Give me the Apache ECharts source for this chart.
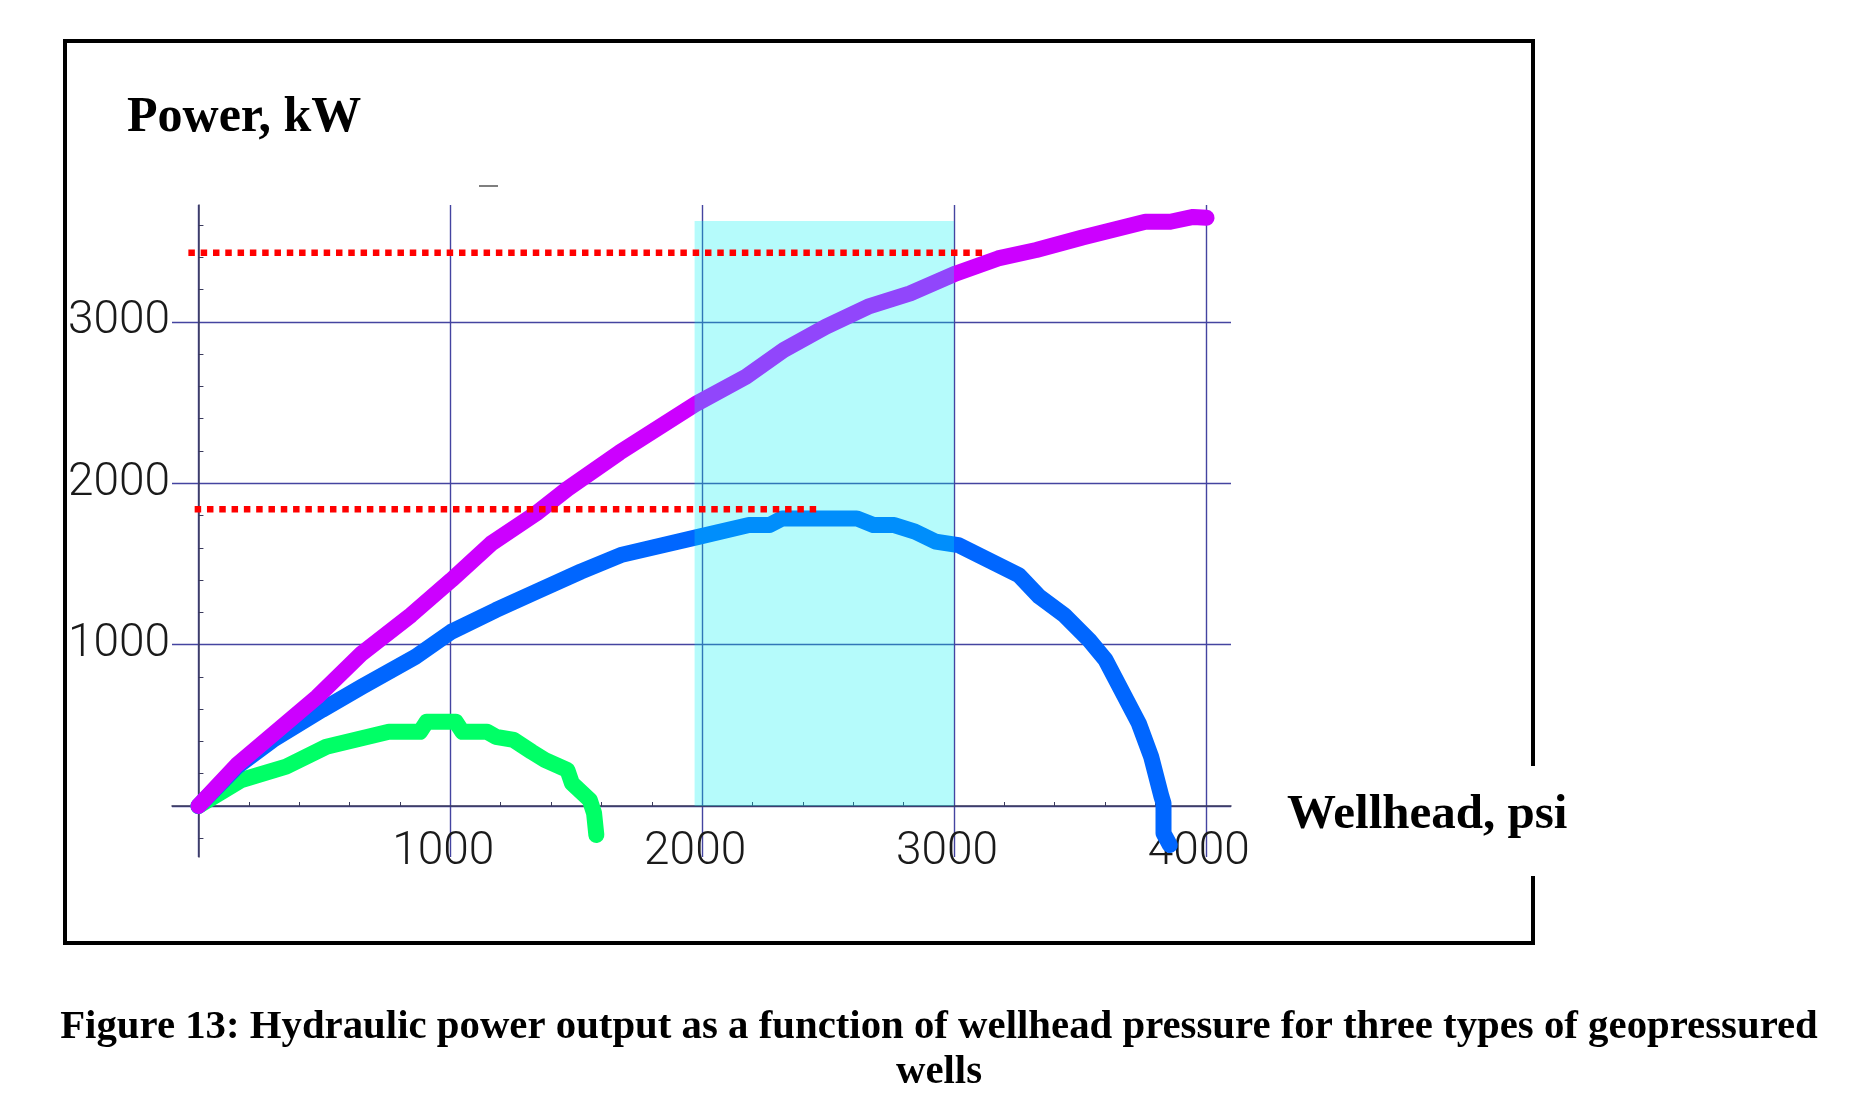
<!DOCTYPE html>
<html>
<head>
<meta charset="utf-8">
<title>Hydraulic power output vs wellhead pressure</title>
<script src="https://cdn.jsdelivr.net/npm/echarts@6/dist/echarts.min.js"></script>
<style>
  html, body { margin: 0; padding: 0; background: #fff; }
  #main { width: 1862px; height: 1095px; }
</style>
</head>
<body>
<div id="main"></div>
<script>
// values: wellhead pressure (psi) and hydraulic power (kW)
var purplePsi = [0, 153, 472, 649, 844, 1004, 1164, 1341, 1465, 1672, 1979, 2174, 2324, 2491, 2659, 2826, 3008, 3175, 3327, 3510, 3760, 3859, 3950, 4003];
var purpleKw  = [0, 255, 677, 946, 1183, 1400, 1628, 1813, 1965, 2190, 2495, 2660, 2825, 2970, 3094, 3176, 3300, 3393, 3445, 3523, 3620, 3620, 3650, 3645];

var bluePsi = [0, 153, 295, 490, 649, 862, 1004, 1181, 1341, 1518, 1677, 1989, 2186, 2268, 2318, 2614, 2680, 2763, 2845, 2927, 3018, 3257, 3339, 3438, 3537, 3602, 3734, 3783, 3824, 3832, 3832, 3857];
var blueKw  = [0, 244, 409, 595, 739, 925, 1080, 1214, 1328, 1452, 1555, 1669, 1741, 1741, 1782, 1782, 1741, 1741, 1700, 1638, 1617, 1431, 1297, 1183, 1028, 905, 512, 305, 58, 17, -169, -242];

var greenPsi = [0, 171, 348, 508, 756, 880, 906, 1022, 1048, 1146, 1181, 1252, 1323, 1376, 1465, 1483, 1554, 1571, 1580];
var greenKw  = [0, 161, 244, 367, 460, 460, 522, 522, 460, 460, 429, 409, 336, 285, 223, 141, 37, -45, -180];

// red dotted reference levels
var refHighPsi = [-40, 3130];
var refHighKw  = 3428;
var refLowPsi  = [-15, 2475];
var refLowKw   = 1838;

// shaded pressure band
var bandPsi = [1970, 3000];
var bandTop = 3625;

// tick labels
var xTickLabels = [1000, 2000, 3000, 4000];
var yTickLabels = [1000, 2000, 3000];

function pairs(xs, ys) {
	var out = [];
	for (var i = 0; i < xs.length; i++) {
		out.push([xs[i], Array.isArray(ys) ? ys[i] : ys]);
	}
	return out;
}

var axisColor = '#3a3a5c';
var gridColor = '#4444a0';
var curveWidth = 16;
var labelFont = {
	fontFamily: 'Roboto, "Open Sans", sans-serif',
	fontWeight: 300,
	fontSize: 46,
	color: '#1a1a1a',
	formatter: function (v) { return String(v); }
};

var chart = echarts.init(document.getElementById('main'), null, { renderer: 'canvas' });

var option = {
	animation: false,
	backgroundColor: '#ffffff',
	grid: { left: 172, top: 205, width: 1059, height: 652, containLabel: false },
	xAxis: {
		type: 'value',
		min: -105,
		max: 4100,
		minInterval: 1000,
		maxInterval: 1000,
		axisLine: { show: true, onZero: true, lineStyle: { color: axisColor, width: 1.5 } },
		// major ticks hidden (the grid lines cover them), only the small 200 psi marks
		axisTick: { show: false, inside: true },
		minorTick: { show: true, splitNumber: 5, length: 4, lineStyle: { color: axisColor, width: 1 } },
		// labels sit at the grid edge, so margin pulls them back up to the zero line
		axisLabel: Object.assign({ customValues: xTickLabels, margin: -28, padding: [0, 14, 0, 0] }, labelFont),
		splitLine: { show: true, showMinLine: false, showMaxLine: false, lineStyle: { color: gridColor, width: 1.4 } }
	},
	yAxis: {
		type: 'value',
		min: -316,
		max: 3724,
		minInterval: 1000,
		maxInterval: 1000,
		axisLine: { show: true, onZero: true, lineStyle: { color: axisColor, width: 1.5 } },
		axisTick: { show: false, inside: true },
		minorTick: { show: true, splitNumber: 5, length: 5, lineStyle: { color: axisColor, width: 1 } },
		axisLabel: Object.assign({ customValues: yTickLabels, margin: 2 }, labelFont),
		splitLine: { show: true, showMinLine: false, showMaxLine: false, lineStyle: { color: gridColor, width: 1.4 } }
	},
	series: [
		{
			name: 'green',
			type: 'line',
			z: 2,
			symbol: 'none',
			silent: true,
			data: pairs(greenPsi, greenKw),
			lineStyle: { color: '#00ff66', width: curveWidth, cap: 'round', join: 'round' }
		},
		{
			name: 'blue',
			type: 'line',
			z: 2,
			symbol: 'none',
			silent: true,
			data: pairs(bluePsi, blueKw),
			lineStyle: { color: '#0066ff', width: curveWidth, cap: 'round', join: 'round' }
		},
		{
			name: 'purple',
			type: 'line',
			z: 2,
			symbol: 'none',
			silent: true,
			data: pairs(purplePsi, purpleKw),
			lineStyle: { color: '#cc00ff', width: curveWidth, cap: 'round', join: 'round' }
		},
		{
			name: 'band',
			type: 'line',
			z: 3,
			symbol: 'none',
			silent: true,
			data: pairs(bandPsi, bandTop),
			lineStyle: { width: 0, opacity: 0 },
			areaStyle: { color: '#00f0f0', opacity: 0.29 }
		},
		{
			name: 'refHigh',
			type: 'line',
			z: 4,
			symbol: 'none',
			silent: true,
			data: pairs(refHighPsi, refHighKw),
			lineStyle: { color: '#ff0000', width: 6.5, type: [6.5, 5.8], cap: 'butt' }
		},
		{
			name: 'refLow',
			type: 'line',
			z: 4,
			symbol: 'none',
			silent: true,
			data: pairs(refLowPsi, refLowKw),
			lineStyle: { color: '#ff0000', width: 6.5, type: [6.5, 5.8], cap: 'butt' }
		}
	],
	graphic: [
		// frame round the plot, open where the x-axis title sits
		{ type: 'polyline', silent: true, shape: { points: [[1533, 766], [1533, 41], [65, 41], [65, 943], [1533, 943], [1533, 876]] },
		  style: { stroke: '#000', lineWidth: 4, fill: null } },
		// stray dash above the plot
		{ type: 'line', silent: true, shape: { x1: 479, y1: 186, x2: 498, y2: 186 }, style: { stroke: '#555', lineWidth: 1.5 } },
		{ type: 'text', silent: true, style: { text: 'Power, kW', x: 127, y: 118, font: 'bold 50px "Liberation Serif", "Times New Roman", serif', fill: '#000',
		  textAlign: 'left', textVerticalAlign: 'middle', align: 'left', verticalAlign: 'middle' } },
		{ type: 'text', silent: true, style: { text: 'Wellhead, psi', x: 1287, y: 815, font: 'bold 49px "Liberation Serif", "Times New Roman", serif', fill: '#000',
		  textAlign: 'left', textVerticalAlign: 'middle', align: 'left', verticalAlign: 'middle' } },
		{ type: 'text', silent: true, style: { text: 'Figure 13: Hydraulic power output as a function of wellhead pressure for three types of geopressured\nwells',
		  x: 939, y: 1050, font: 'bold 40.8px "Liberation Serif", "Times New Roman", serif', lineHeight: 45, fill: '#000',
		  textAlign: 'center', textVerticalAlign: 'middle', align: 'center', verticalAlign: 'middle' } }
	]
};

chart.setOption(option);
</script>
</body>
</html>
